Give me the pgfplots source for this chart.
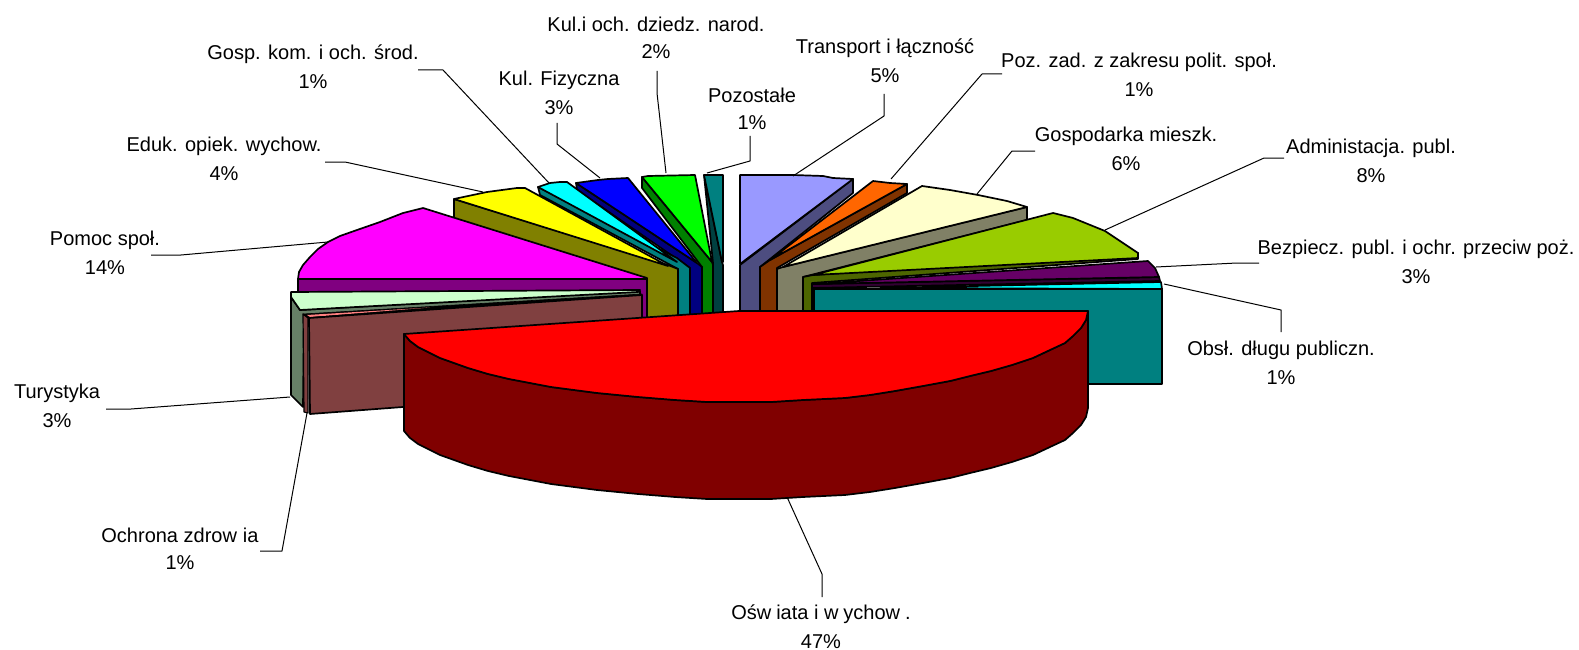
\documentclass[border=0pt]{standalone}
\usepackage{pgfplots}
\pgfplotsset{compat=1.18}
\usepackage{fontspec}
\setmainfont{Liberation Sans}
\definecolor{cPer}{HTML}{9999FF}\definecolor{cPerW}{HTML}{4D4D80}
\definecolor{cOr}{HTML}{FF6600}\definecolor{cOrW}{HTML}{803300}
\definecolor{cLY}{HTML}{FFFFCC}\definecolor{cLYW}{HTML}{808066}
\definecolor{cYG}{HTML}{99CC00}\definecolor{cYGW}{HTML}{4D6600}
\definecolor{cPu}{HTML}{660066}\definecolor{cPuW}{HTML}{330033}
\definecolor{cTe}{HTML}{008080}\definecolor{cTeW}{HTML}{004040}
\definecolor{cGr}{HTML}{00FF00}\definecolor{cGrW}{HTML}{008000}
\definecolor{cBl}{HTML}{0000FF}\definecolor{cBlW}{HTML}{000080}
\definecolor{cCy}{HTML}{00FFFF}
\definecolor{cYe}{HTML}{FFFF00}\definecolor{cYeW}{HTML}{808000}
\definecolor{cMa}{HTML}{FF00FF}\definecolor{cMaW}{HTML}{800080}
\definecolor{cLG}{HTML}{CCFFCC}\definecolor{cLGW}{HTML}{668066}
\definecolor{cSa}{HTML}{FF8080}\definecolor{cSaW}{HTML}{804040}
\definecolor{cRe}{HTML}{FF0000}\definecolor{cReW}{HTML}{800000}
\newcommand{\lab}[4]{\node[font=\fontsize{20}{22}\selectfont,inner sep=0pt,anchor=center] at (axis cs:#1,#2) {#3};\node[font=\fontsize{20}{22}\selectfont,inner sep=0pt,anchor=center] at (axis cs:#1,#2+28) {#4\%};}
\begin{document}
\begin{tikzpicture}
\useasboundingbox (0,0) rectangle (1579pt,650pt);
\begin{axis}[at={(0,0)},anchor=south west,scale only axis,width=1579pt,height=650pt,xmin=0,xmax=1579,ymin=0,ymax=650,y dir=reverse,hide axis,clip=false,
  every axis plot/.append style={line width=1.7pt,draw=black,line join=round}]
% back left: Pozostale
\addplot[fill=cTeW] coordinates {(704,175)(722,262)(723,265)(723,320)(713,320)(713,263)} --cycle;
\addplot[fill=cTe] coordinates {(704,175)(723,175)(723,262)(722,262)} --cycle;
% Kul i och
\addplot[fill=cGrW] coordinates {(642,177)(712,262)(713,265)(713,325)(702,325)(702,267)(642,188)} --cycle;
\addplot[fill=cGr] coordinates {(642,177)(648,176)(695,175)(712,262)} --cycle;
% Kul fiz
\addplot[fill=cBlW] coordinates {(576,183)(697,263)(702,267)(702,325)(690,325)(690,268)(577,190)} --cycle;
\addplot[fill=cBl] coordinates {(576,183)(598,180)(608,179)(628,178)(697,263)} --cycle;
% Gosp kom
\addplot[fill=cTe] coordinates {(538,187)(677,258)(690,268)(690,325)(678,325)(678,269)(540,195)} --cycle;
\addplot[fill=cCy] coordinates {(538,187)(550,183)(560,182)(567,182)(677,262)} --cycle;
% Eduk
\addplot[fill=cYeW] coordinates {(454,199)(668,265)(678,269)(678,325)(640,325)(454,218)} --cycle;
\addplot[fill=cYe] coordinates {(454,199)(487,192)(517,188)(525,188)(668,266)} --cycle;
% Pomoc
\addplot[fill=cMaW] coordinates {(298,279)(647,279)(647,325)(298,325)} --cycle;
\addplot[fill=cMa] coordinates {(647,278)(423,208)(403,213)(380,222)(357,230)(340,236)(328,242)(318,249)(310,257)(303,265)(299,272)(298,279)(647,279)} --cycle;
% Turystyka
\addplot[fill=cLGW] coordinates {(291,297)(300,310)(640,291)(640,297)(304,317)(303,407)(291,395)} --cycle;
\addplot[fill=cLG] coordinates {(291,292)(640,290)(638,292)(300,310)(291,297)} --cycle;
% Ochrona
\addplot[fill=black,line width=0.6pt] coordinates {(303,314)(642,294)(642,297)(306,319)} --cycle;
\addplot[fill=cSa,draw=none] coordinates {(307,315)(430,307.5)(310,317)} --cycle;
\addplot[fill=cSaW,line width=1.2pt] coordinates {(303,314)(308,318)(308,413)(304,412)} --cycle;
\addplot[fill=cSaW] coordinates {(309,318)(642,295)(642,360)(642,389)(310,414)} --cycle;
% right: Transport
\addplot[fill=cPerW] coordinates {(853,179)(853,193)(760,267)(760,320)(740,320)(740,265)} --cycle;
\addplot[fill=cPer] coordinates {(740,175)(793,175)(823,176)(833,178)(853,179)(740,264)} --cycle;
% Poz zad
\addplot[fill=cOrW] coordinates {(907,184)(907,193)(777,268)(777,320)(760,320)(760,267)(770,260)} --cycle;
\addplot[fill=cOr] coordinates {(873,181)(890,183)(907,184)(770,260)} --cycle;
% Gosp mieszk
\addplot[fill=cLYW] coordinates {(1027,207)(1027,220)(803,277)(803,320)(777,320)(777,269)(783,267)} --cycle;
\addplot[fill=cLY] coordinates {(922,186)(950,190)(978,195)(1007,201)(1027,207)(783,267)} --cycle;
% Admin
\addplot[fill=cYGW] coordinates {(1138,253)(1138,259)(812,283)(812,320)(803,320)(803,277)(813,275)} --cycle;
\addplot[fill=cYG] coordinates {(1053,213)(1073,218)(1105,231)(1123,243)(1138,253)(1138,258)(813,275)} --cycle;
% Bezp
\addplot[fill=cPuW] coordinates {(1159,277)(1160,281)(812,288)(812,284)} --cycle;
\addplot[fill=cPu] coordinates {(815,284)(1148,261)(1155,268)(1159,277)} --cycle;
% Obsl
\addplot[fill=cTe] coordinates {(814,289)(1162,289)(1162,384)(814,384)} --cycle;
\addplot[fill=cCy] coordinates {(880,288)(1161,282)(1162,289)} --cycle;
% Oswiata
\addplot[fill=cReW] coordinates {(404,334)(410,341)(418,347)(428,352)(440,358)(454,363)(468,368)(488,374)(509,379)(530,383)(551,387)(574,390)(597,393)(638,397)(675,400)(707,402)(771,402)(803,400)(845,398)(870,395)(895,391)(923,386)(950,381)(970,376)(991,371)(1012,365)(1033,358)(1050,350)(1065,343)(1073,336)(1081,328)(1086,320)(1088,311)(1088,408)(1086,417)(1081,425)(1073,433)(1065,440)(1050,447)(1033,455)(1012,462)(991,468)(970,473)(950,478)(923,483)(895,488)(870,492)(845,495)(803,497)(771,499)(707,499)(675,497)(638,494)(597,490)(574,487)(551,484)(530,480)(509,476)(488,471)(468,465)(454,460)(440,455)(428,449)(418,444)(410,438)(404,431)} --cycle;
\addplot[fill=cRe] coordinates {(404,334)(739,311)(1088,311)(1086,320)(1081,328)(1073,336)(1065,343)(1050,350)(1033,358)(1012,365)(991,371)(970,376)(950,381)(923,386)(895,391)(870,395)(845,398)(803,400)(771,402)(707,402)(675,400)(638,397)(597,393)(574,390)(551,387)(530,383)(509,379)(488,374)(468,368)(454,363)(440,358)(428,352)(418,347)(410,341)} --cycle;
% leader lines
\addplot[line width=1pt] coordinates {(707,173)(750,161)(750,136)};
\addplot[line width=1pt] coordinates {(666,173)(657,93)(657,71)};
\addplot[line width=1pt] coordinates {(600,178)(557,144)(557,123)};
\addplot[line width=1pt] coordinates {(549,183)(443,70)(418,70)};
\addplot[line width=1pt] coordinates {(483,192)(345,162)(325,162)};
\addplot[line width=1pt] coordinates {(328,242)(181,255)(151,255)};
\addplot[line width=1pt] coordinates {(290,397)(131,409)(106,409)};
\addplot[line width=1pt] coordinates {(307,413)(282,551)(260,551)};
\addplot[line width=1pt] coordinates {(787,497)(822,574)(822,597)};
\addplot[line width=1pt] coordinates {(1164,284)(1281,310)(1281,332)};
\addplot[line width=1pt] coordinates {(1156,267)(1237,263)(1259,263)};
\addplot[line width=1pt] coordinates {(1105,230)(1264,158)(1284,158)};
\addplot[line width=1pt] coordinates {(977,194)(1012,151)(1035,151)};
\addplot[line width=1pt] coordinates {(891,179)(982,74)(1002,74)};
\addplot[line width=1pt] coordinates {(793,176)(884,116)(884,94)};
% labels
\lab{752}{95}{Pozostałe}{1}
\lab{656}{24}{Kul.i och. dziedz. narod.}{2}
\lab{885}{48}{Transport i łączność}{5}
\lab{1139}{62}{Poz. zad. z zakresu polit. społ.}{1}
\lab{1126}{136}{Gospodarka mieszk.}{6}
\lab{1371}{148}{Administacja. publ.}{8}
\lab{1416}{249}{Bezpiecz. publ. i ochr. przeciw poż.}{3}
\lab{1281}{350}{Obsł. długu publiczn.}{1}
\lab{821}{614}{Ośw\kern5pt iata i w\kern5pt ychow\kern5pt .}{47}
\lab{180}{535}{Ochrona zdrow\kern6pt ia}{1}
\lab{57}{393}{Turystyka}{3}
\lab{105}{240}{Pomoc społ.}{14}
\lab{224}{146}{Eduk. opiek. wychow.}{4}
\lab{313}{54}{Gosp. kom. i och. środ.}{1}
\lab{559}{80}{Kul. Fizyczna}{3}
\end{axis}
\end{tikzpicture}
\end{document}
